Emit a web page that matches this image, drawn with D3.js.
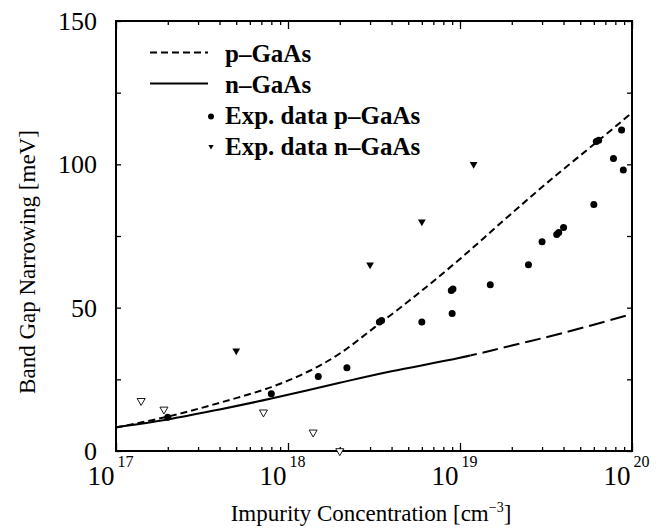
<!DOCTYPE html>
<html>
    <head>
        <style>
         body {
             margin: 0;
             background-color: #ffffff;
         }
         text {
             font-family: "Liberation Serif", "DejaVu Serif", "Times New Roman", Times, serif;
             fill: #000;
         }
         .frame {
             fill: none;
             stroke: #000;
             stroke-width: 2;
         }
         .axis path {
             display: none;
         }
         .axis line {
             stroke: #000;
             stroke-width: 1.3;
         }
         .legend text {
             font-weight: bold;
             font-size: 25px;
         }
        </style>
        <script src="https://d3js.org/d3.v7.min.js"></script>
    </head>
    <body>
        <svg id="chart" width="658" height="529"></svg>
        <script>
         // theory curves
         var pCurveN   = [1e17, 2e17, 4e17, 8e17, 1.33e18, 2e18, 3.2e18, 5.6e18, 1e19, 1.8e19, 3.2e19, 6.3e19, 1e20];
         var pCurveBGN = [8.2, 12, 16.8, 22.3, 27.9, 34, 43.2, 54.5, 67, 80.5, 93.5, 108, 118];
         var nCurveN   = [1e17, 2e17, 4e17, 8e17, 2e18, 4e18, 1e19, 2e19, 4e19, 1e20];
         var nCurveBGN = [8.3, 11, 14.5, 18.3, 23.8, 27.8, 32.5, 36.8, 41.2, 47.8];
         var nSolidEnd = 1.15e19;   // n-GaAs curve is long-dashed past this

         // experimental points
         var pExpN   = [2e17, 8e17, 1.5e18, 2.2e18, 3.4e18, 3.5e18, 6e18, 9e18, 8.9e18, 9.1e18, 1.5e19, 2.5e19,
                        3e19, 3.65e19, 3.75e19, 4e19, 6e19, 6.2e19, 6.4e19, 7.8e19, 8.7e19, 8.9e19];
         var pExpBGN = [11.8, 20, 26, 29, 45, 45.5, 45, 48, 56, 56.5, 58, 65,
                        73, 75.5, 76.2, 78, 86, 108, 108.4, 102, 112, 98];
         var nExpN   = [5e17, 3e18, 6e18, 1.2e19];
         var nExpBGN = [35, 65, 80, 100];
         var nOpenN   = [1.4e17, 1.9e17, 7.2e17, 1.4e18, 2e18];
         var nOpenBGN = [17.5, 14.5, 13.5, 6.5, 0];

         var yTickValues  = [0, 25, 50, 75, 100, 125, 150];
         var yTickLabels  = [0, 50, 100, 150];
         var xMajorTicks  = [1e17, 1e18, 1e19, 1e20];
         var xTickExp     = ["17", "18", "19", "20"];
         var legendLabels = ["p\u2013GaAs", "n\u2013GaAs", "Exp. data p\u2013GaAs", "Exp. data n\u2013GaAs"];

         var svg = d3.select("#chart"),
             plotL = 116, plotR = 632, plotT = 21, plotB = 451;

         var x = d3.scaleLog().domain([1e17, 1e20]).range([plotL, plotR]),
             y = d3.scaleLinear().domain([0, 150]).range([plotB, plotT]);

         var xMinor = [];
         xMajorTicks.slice(0, 3).forEach(function(d) {
             for (var k = 2; k < 10; k++) xMinor.push(d * k);
         });

         // ticks, all pointing inward
         svg.append("g").attr("class", "axis")
            .attr("transform", "translate(0," + plotB + ")")
            .call(d3.axisBottom(x).tickValues(xMinor).tickSize(-4).tickFormat(""));
         svg.append("g").attr("class", "axis")
            .attr("transform", "translate(0," + plotB + ")")
            .call(d3.axisBottom(x).tickValues(xMajorTicks).tickSize(-8).tickFormat(""));
         svg.append("g").attr("class", "axis")
            .attr("transform", "translate(0," + plotT + ")")
            .call(d3.axisTop(x).tickValues(xMinor).tickSize(-4).tickFormat(""));
         svg.append("g").attr("class", "axis")
            .attr("transform", "translate(0," + plotT + ")")
            .call(d3.axisTop(x).tickValues(xMajorTicks).tickSize(-8).tickFormat(""));
         svg.append("g").attr("class", "axis")
            .attr("transform", "translate(" + plotL + ",0)")
            .call(d3.axisLeft(y).tickValues(yTickValues).tickSize(-5).tickFormat(""));
         svg.append("g").attr("class", "axis")
            .attr("transform", "translate(" + plotR + ",0)")
            .call(d3.axisRight(y).tickValues(yTickValues).tickSize(-5).tickFormat(""));

         svg.append("rect").attr("class", "frame")
            .attr("x", plotL).attr("y", plotT)
            .attr("width", plotR - plotL).attr("height", plotB - plotT);

         // y tick labels
         svg.selectAll(".ylab")
            .data(yTickLabels)
            .enter().append("text")
            .attr("x", plotL - 19)
            .attr("y", function(d) { return y(d); })
            .attr("dy", "0.34em")
            .attr("text-anchor", "end")
            .style("font-size", "26px")
            .text(function(d) { return d; });

         // x tick labels as 10^n
         var xl = svg.selectAll(".xlab")
                     .data(xMajorTicks)
                     .enter().append("g");
         xl.append("text")
           .attr("x", function(d) { return x(d) - 1.5; })
           .attr("y", 485)
           .attr("text-anchor", "end")
           .style("font-size", "27px")
           .text("10");
         xl.append("text")
           .attr("x", function(d) { return x(d) + 1.5; })
           .attr("y", 467)
           .style("font-size", "16px")
           .text(function(d, i) { return xTickExp[i]; });

         // axis titles
         var xt = svg.append("text")
                     .attr("x", 371)
                     .attr("y", 521)
                     .attr("text-anchor", "middle")
                     .style("font-size", "23px");
         xt.append("tspan").text("Impurity Concentration [cm");
         xt.append("tspan").attr("dy", -9).style("font-size", "14px").text("\u22123");
         xt.append("tspan").attr("dy", 9).text("]");

         svg.append("text")
            .attr("transform", "translate(35,262) rotate(-90)")
            .attr("text-anchor", "middle")
            .style("font-size", "23px")
            .text("Band Gap Narrowing [meV]");

         // curves
         var line = d3.line()
                      .x(function(d) { return x(d[0]); })
                      .y(function(d) { return y(d[1]); })
                      .curve(d3.curveCatmullRom.alpha(0.5));

         var defs = svg.append("defs");
         defs.append("clipPath").attr("id", "clip-solid")
             .append("rect").attr("x", 0).attr("y", 0)
             .attr("width", x(nSolidEnd)).attr("height", 529);
         defs.append("clipPath").attr("id", "clip-dash")
             .append("rect").attr("x", x(nSolidEnd)).attr("y", 0)
             .attr("width", 658 - x(nSolidEnd)).attr("height", 529);

         var pCurve = d3.zip(pCurveN, pCurveBGN),
             nCurve = d3.zip(nCurveN, nCurveBGN);

         svg.append("path")
            .datum(pCurve)
            .attr("d", line)
            .attr("fill", "none")
            .attr("stroke", "#000")
            .attr("stroke-width", 2)
            .attr("stroke-dasharray", "7,4");
         svg.append("path")
            .datum(nCurve)
            .attr("d", line)
            .attr("clip-path", "url(#clip-solid)")
            .attr("fill", "none")
            .attr("stroke", "#000")
            .attr("stroke-width", 2);
         svg.append("path")
            .datum(nCurve)
            .attr("d", line)
            .attr("clip-path", "url(#clip-dash)")
            .attr("fill", "none")
            .attr("stroke", "#000")
            .attr("stroke-width", 2)
            .attr("stroke-dasharray", "16,6");

         // experimental points
         var tri = d3.symbol().type(d3.symbolTriangle);

         svg.selectAll(".pdot")
            .data(d3.zip(pExpN, pExpBGN))
            .enter().append("circle")
            .attr("cx", function(d) { return x(d[0]); })
            .attr("cy", function(d) { return y(d[1]); })
            .attr("r", 3.5)
            .attr("fill", "#000");

         svg.selectAll(".ntri")
            .data(d3.zip(nExpN, nExpBGN))
            .enter().append("path")
            .attr("d", tri.size(26)())
            .attr("transform", function(d) { return "translate(" + x(d[0]) + "," + y(d[1]) + ") rotate(180)"; })
            .attr("fill", "#000");

         svg.selectAll(".nopen")
            .data(d3.zip(nOpenN, nOpenBGN))
            .enter().append("path")
            .attr("d", tri.size(28)())
            .attr("transform", function(d) { return "translate(" + x(d[0]) + "," + y(d[1]) + ") rotate(180)"; })
            .attr("fill", "#fff")
            .attr("stroke", "#000")
            .attr("stroke-width", 0.9);

         // legend
         var lg = svg.append("g").attr("class", "legend");
         var rowY = [61.5, 92.5, 123.5, 154.5];
         lg.selectAll("text")
           .data(legendLabels)
           .enter().append("text")
           .attr("x", 225)
           .attr("y", function(d, i) { return rowY[i]; })
           .text(function(d) { return d; });
         lg.append("line")
           .attr("x1", 150).attr("x2", 208)
           .attr("y1", rowY[0] - 9).attr("y2", rowY[0] - 9)
           .attr("stroke", "#000").attr("stroke-width", 2)
           .attr("stroke-dasharray", "7,4");
         lg.append("line")
           .attr("x1", 150).attr("x2", 208)
           .attr("y1", rowY[1] - 9).attr("y2", rowY[1] - 9)
           .attr("stroke", "#000").attr("stroke-width", 2);
         lg.append("circle")
           .attr("cx", 211).attr("cy", rowY[2] - 7)
           .attr("r", 3).attr("fill", "#000");
         lg.append("path")
           .attr("d", tri.size(12)())
           .attr("transform", "translate(211," + (rowY[3] - 8) + ") rotate(180)")
           .attr("fill", "#000");
        </script>
    </body>
</html>
